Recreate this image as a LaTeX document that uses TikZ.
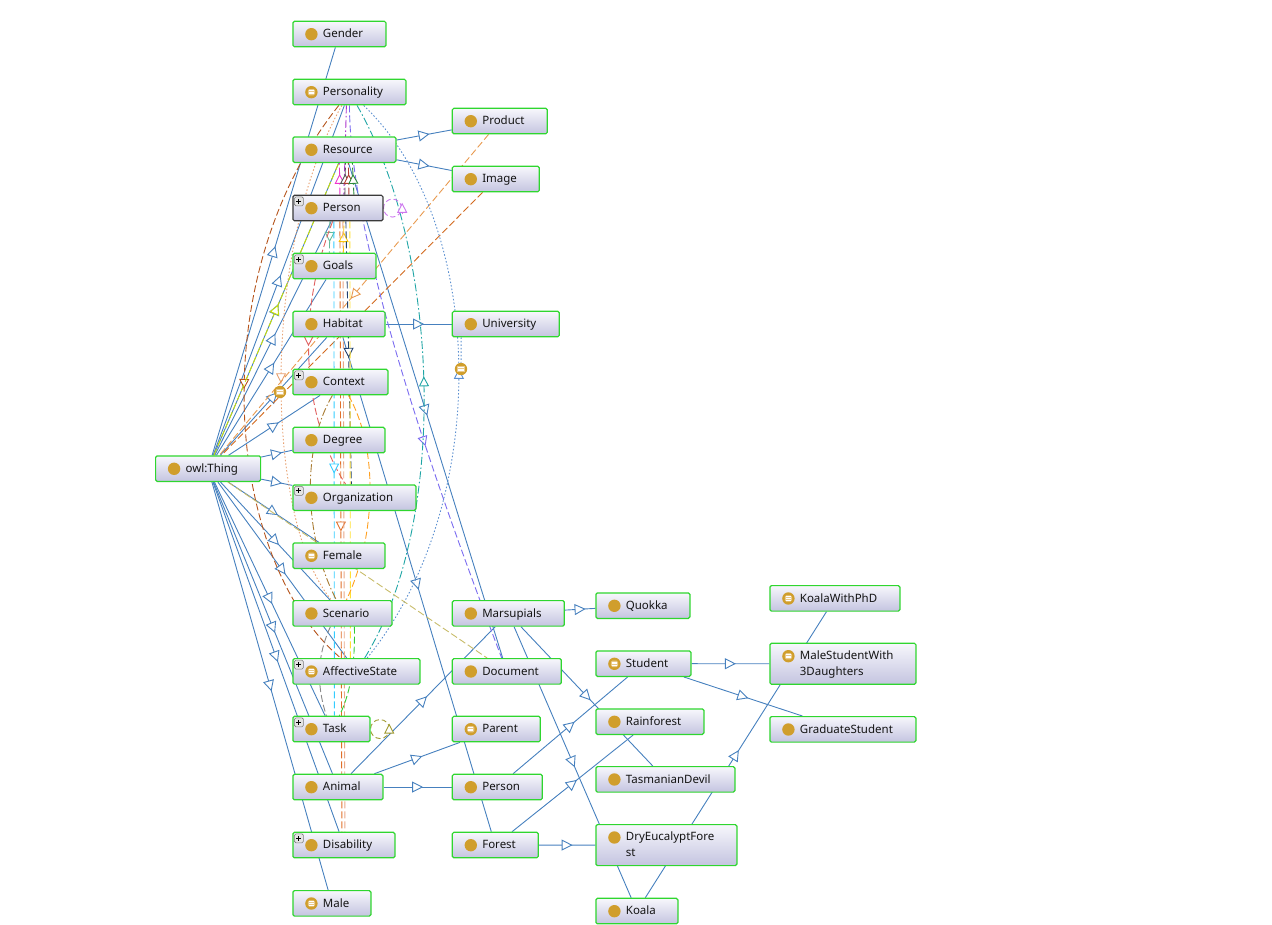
\documentclass[tikz,border=0pt]{standalone}
\usepackage{fontspec}
\setmainfont{Noto Sans}
\usetikzlibrary{arrows.meta,decorations.markings}
\pgfdeclarelayer{edges}
\pgfsetlayers{edges,main}

\definecolor{clsgreen}{HTML}{2FD62F}
\definecolor{selgray}{HTML}{3A3A3A}
\definecolor{boxtop}{HTML}{F7F7FC}
\definecolor{boxbot}{HTML}{C4C4E0}
\definecolor{gold}{HTML}{D09E2C}
\definecolor{goldlt}{HTML}{E8C98A}
\definecolor{txtgray}{HTML}{141414}
\definecolor{plusgray}{HTML}{7A7A7A}
\definecolor{plusfill}{HTML}{E4E4E4}
\definecolor{isablue}{HTML}{4680BE}
\definecolor{cbrown}{HTML}{B5541C}
\definecolor{corgdot}{HTML}{E8A070}
\definecolor{cyelgrn}{HTML}{C8E000}
\definecolor{corgl}{HTML}{E89A50}
\definecolor{corgd}{HTML}{D2691E}
\definecolor{cpurp}{HTML}{7B6CF0}
\definecolor{cteal}{HTML}{1FA5A5}
\definecolor{cbdot}{HTML}{5B8FD0}
\definecolor{ckhaki}{HTML}{C8BC6A}
\definecolor{cviolet}{HTML}{CC77EE}
\definecolor{colive}{HTML}{A09A30}
\definecolor{cmagen}{HTML}{EE33CC}
\definecolor{crbrown}{HTML}{B03A2E}
\definecolor{cdgreen}{HTML}{2A8A3A}
\definecolor{cdgray}{HTML}{555555}
\definecolor{cmint}{HTML}{66BB99}
\definecolor{cyelw}{HTML}{FFCC00}
\definecolor{credl}{HTML}{E06060}
\definecolor{cnavy}{HTML}{1F3F6F}
\definecolor{ccyan}{HTML}{33CCFF}
\definecolor{corred}{HTML}{E0702A}
\definecolor{csalmon}{HTML}{E8A888}
\definecolor{corng}{HTML}{FFA020}
\definecolor{cbrdash}{HTML}{A87A30}
\definecolor{cgrayd}{HTML}{888888}
\definecolor{cgreenl}{HTML}{33CC33}
\definecolor{cpurpd}{HTML}{AA33CC}
\definecolor{cyelwv}{HTML}{FFE033}

\newcommand\eqglyph[1]{%
  \fill[gold] (#1) circle[radius=6.2pt];
  \fill[goldlt] ([shift={(-3.6pt,-3.2pt)}]#1) rectangle ([shift={(3.6pt,3.2pt)}]#1);
  \draw[white, line width=.9pt] ([shift={(-2.6pt,1.7pt)}]#1) -- ([shift={(2.6pt,1.7pt)}]#1)
    ([shift={(-2.6pt,0pt)}]#1) -- ([shift={(2.6pt,0pt)}]#1)
    ([shift={(-2.6pt,-1.7pt)}]#1) -- ([shift={(2.6pt,-1.7pt)}]#1);}
\newcommand\clsdot{\fill[gold] ([shift={(18.5pt,-12.9pt)}]path picture bounding box.north west) circle[radius=6.2pt];}
\newcommand\clseq{\coordinate (ic) at ([shift={(18.5pt,-12.9pt)}]path picture bounding box.north west); \eqglyph{ic}}
\newcommand\clsplus{%
  \draw[plusgray, fill=plusfill, line width=.6pt] ([shift={(1.5pt,-1.5pt)}]path picture bounding box.north west) rectangle ++(9pt,-9pt);
  \draw[black, line width=.9pt] ([shift={(3.5pt,-6pt)}]path picture bounding box.north west) -- ++(5pt,0pt)
    ([shift={(6pt,-3.5pt)}]path picture bounding box.north west) -- ++(0pt,-5pt);}

\tikzset{
  box/.style={draw=clsgreen, line width=1.2pt, rounded corners=1.5pt, top color=boxtop, bottom color=boxbot,
    anchor=north west, minimum height=25.5pt, inner xsep=0pt, inner ysep=2pt, align=left, text=txtgray,
    text height=10pt, text depth=2.5pt, font=\fontsize{11.5}{16}\selectfont,
    execute at begin node={\noindent\hspace*{30pt}}},
  cls/.style={box, text width=#1, path picture={\clsdot}},
  eqv/.style={box, text width=#1, path picture={\clseq}},
  clsp/.style={box, text width=#1, path picture={\clsdot\clsplus}},
  eqvp/.style={box, text width=#1, path picture={\clseq\clsplus}},
  twoline/.style={minimum height=41pt, text depth=18.5pt},
  sel/.style={draw=selgray},
  isatip/.tip={Triangle[open, fill=white, length=11pt, width=11pt]},
  reltip/.tip={Triangle[open, fill=white, length=10pt, width=10pt]},
  isa/.style={draw=isablue, line width=.9pt, postaction={decorate, decoration={markings,
    mark=at position .5 with {\arrow[xshift=5.5pt]{isatip}}}}},
  rel/.style={line width=.9pt, dash pattern=on 7pt off 3pt},
  mid/.style={postaction={decorate, decoration={markings,
    mark=at position #1 with {\arrow[xshift=5pt]{reltip}}}}},
  dots/.style={dash pattern=on 1.5pt off 2pt},
  dashdot/.style={dash pattern=on 8pt off 2.5pt on 1.5pt off 2.5pt},
  loopline/.style={line width=.9pt, dash pattern=on 5pt off 3pt}
}

\begin{document}
\begin{tikzpicture}[x=1pt, y=-1pt]
  \useasboundingbox (0,0) rectangle (1272,924);
  % classes, first column
  \node[cls=93pt] (gender) at (292.3,20.7) {Gender};
  \node[eqv=113pt] (personality) at (292.3,78.7) {Personality};
  \node[cls=103pt] (resource) at (292.3,136.3) {Resource};
  \node[clsp=90pt, sel] (person) at (292.3,194.7) {Person};
  \node[clsp=83pt] (goals) at (292.3,252.7) {Goals};
  \node[cls=92pt] (habitat) at (292.3,310.7) {Habitat};
  \node[clsp=95pt] (context) at (292.3,368.7) {Context};
  \node[cls=92pt] (degree) at (292.3,426.7) {Degree};
  \node[cls=105pt] (thing) at (155,455.3) {owl:Thing};
  \node[clsp=123pt] (organization) at (292.3,484.3) {Organization};
  \node[eqv=92pt] (female) at (292.3,542.3) {Female};
  \node[cls=99pt] (scenario) at (292.3,600) {Scenario};
  \node[eqvp=127pt] (affective) at (292.3,658) {AffectiveState};
  \node[clsp=77pt] (task) at (292.3,715.7) {Task};
  \node[cls=90pt] (animal) at (292.3,773.7) {Animal};
  \node[clsp=102pt] (disability) at (292.3,831.7) {Disability};
  \node[eqv=78pt] (male) at (292.3,890) {Male};
  % second column
  \node[cls=95pt] (product) at (451.7,107.7) {Product};
  \node[cls=87pt] (image) at (451.7,165.7) {Image};
  \node[cls=107pt] (university) at (451.7,310.7) {University};
  \node[cls=112pt] (marsupials) at (451.7,600) {Marsupials};
  \node[cls=109pt] (document) at (451.7,658) {Document};
  \node[eqv=88pt] (parent) at (451.7,715.7) {Parent};
  \node[cls=90pt] (personb) at (451.7,773.7) {Person};
  \node[cls=86pt] (forest) at (451.7,831.7) {Forest};
  % third column
  \node[cls=94pt] (quokka) at (595.3,592.3) {Quokka};
  \node[eqv=95pt] (student) at (595.3,650.3) {Student};
  \node[cls=108pt] (rainforest) at (595.3,708.3) {Rainforest};
  \node[cls=139pt] (tasdevil) at (595.3,766) {TasmanianDevil};
  \node[cls=141pt, twoline] (dryforest) at (595.3,824) {DryEucalyptFore\\\hspace*{30pt}st};
  \node[cls=82pt] (koala) at (595.3,897.7) {Koala};
  % fourth column
  \node[eqv=130pt] (koalaphd) at (769.3,585) {KoalaWithPhD};
  \node[eqv=146pt, twoline] (malestudent) at (769.3,642.7) {MaleStudentWith\\\hspace*{30pt}3Daughters};
  \node[cls=146pt] (gradstudent) at (769.3,716) {GraduateStudent};

  \coordinate (eqa) at (280,392);
  \coordinate (eqb) at (461,369);

  \begin{pgfonlayer}{edges}
  % subclass arcs
  \draw[isa] (thing) -- (gender);
  \draw[isa] (thing) -- (personality);
  \draw[isa] (thing) -- (resource);
  \draw[isa] (thing) -- (person);
  \draw[isa] (thing) -- (goals);
  \draw[isa] (thing) -- (habitat);
  \draw[isa] (thing) -- (context);
  \draw[isa] (thing) -- (degree);
  \draw[isa] (thing) -- (organization);
  \draw[isa] (thing) -- (female);
  \draw[isa] (thing) -- (scenario);
  \draw[isa] (thing) -- (affective);
  \draw[isa] (thing) -- (task);
  \draw[isa] (thing) -- (animal);
  \draw[isa] (thing) -- (disability);
  \draw[isa] (thing) -- (male);
  \draw[isa] (resource) -- (product);
  \draw[isa] (resource) -- (image);
  \draw[isa] (resource) -- (document);
  \draw[isa] (habitat) -- (university);
  \draw[isa] (habitat) -- (forest);
  \draw[isa] (animal) -- (marsupials);
  \draw[isa] (animal) -- (parent);
  \draw[isa] (animal) -- (personb);
  \draw[isa] (marsupials) -- (quokka);
  \draw[isa] (marsupials) -- (tasdevil);
  \draw[isa] (marsupials) -- (koala);
  \draw[isa] (personb) -- (student);
  \draw[isa] (forest) -- (rainforest);
  \draw[isa] (forest) -- (dryforest);
  \draw[isa] (student) -- (malestudent);
  \draw[isa] (student) -- (gradstudent);
  \draw[isa] (koala) -- (koalaphd);
  % object properties
  \draw[rel, cbrown, mid=.5] (personality) .. controls (200,280) and (225,560) .. (affective);
  \draw[rel, dots, corgdot, mid=.55] (personality) .. controls (260,250) and (265,520) .. (scenario);
  \draw[rel, cyelgrn, mid=.5] (thing) -- (resource);
  \draw[rel, corgl, mid=.5] (product) -- (thing);
  \draw[rel, corgd] (image) -- (thing);
  \draw[rel, cpurp, mid=.6] (personality) .. controls (350,240) and (430,470) .. (document);
  \draw[rel, dashdot, cteal, mid=.5] (affective) .. controls (450,520) and (440,250) .. (personality);
  \draw[rel, dots, cbdot, mid=.51] (affective) .. controls (495,500) and (485,220) .. (personality);
  \draw[rel, dots, cbdot] ([xshift=9.5pt]university.south west) -- (eqb);
  \draw[rel, ckhaki] (thing) -- (document);
  \draw[rel, dashdot, cpurpd] ([xshift=-3pt]personality.south) -- ([xshift=6pt]person.north);
  \draw[rel, cmagen, mid=.5] ([xshift=2pt]person.north) -- ([xshift=-5pt]resource.south);
  \draw[rel, cdgray, mid=.5] ([xshift=7pt]person.north) -- ([xshift=1pt]resource.south);
  \draw[rel, crbrown, mid=.5] ([xshift=11pt]person.north) -- ([xshift=4pt]resource.south);
  \draw[rel, cdgreen, mid=.5] ([xshift=16pt]person.north) -- ([xshift=8pt]resource.south);
  \draw[rel, cmint, mid=.5] ([xshift=-8pt]person.south) -- ([xshift=-5pt]goals.north);
  \draw[rel, cyelw, mid=.5] ([xshift=9pt]goals.north) -- ([xshift=6pt]person.south);
  \draw[rel, credl, mid=.45] (person) .. controls (290,330) and (310,430) .. (organization);
  \draw[rel, cnavy, mid=.5] ([xshift=8pt]person.south) -- ([xshift=-3pt]organization.north);
  \draw[rel, ccyan, mid=.5] ([xshift=-4pt]person.south) -- ([xshift=3pt]task.north);
  \draw[rel, corred, mid=.5] ([xshift=2pt]person.south) -- ([xshift=-2pt]disability.north);
  \draw[rel, csalmon] ([xshift=5pt]person.south) -- ([xshift=1pt]disability.north);
  \draw[rel, cyelwv] ([xshift=12pt]person.south) -- ([xshift=-6pt]affective.north);
  \draw[rel, corng] ([xshift=8pt]context.south) .. controls (380,450) and (375,540) .. ([xshift=4pt]scenario.north);
  \draw[rel, dashdot, cbrdash] ([xshift=-8pt]context.south) .. controls (300,450) and (305,540) .. ([xshift=-6pt]scenario.north);
  \draw[rel, cgrayd] ([xshift=-12pt]scenario.south) .. controls (315,660) and (318,690) .. ([xshift=-5pt]task.north);
  \draw[rel, cgreenl] ([xshift=12pt]scenario.south) .. controls (355,660) and (352,690) .. ([xshift=8pt]task.north);
  % self loops
  \draw[loopline, cviolet] ([xshift=9pt]person.east) circle[radius=9pt];
  \draw[cviolet, line width=.9pt, -{reltip}] ([xshift=18.7pt,yshift=-5pt]person.east) -- ([xshift=18.7pt,yshift=5.3pt]person.east);
  \draw[loopline, colive] ([xshift=9.5pt]task.east) circle[radius=9.5pt];
  \draw[colive, line width=.9pt, -{reltip}] ([xshift=18.7pt,yshift=-5pt]task.east) -- ([xshift=18.7pt,yshift=5.5pt]task.east);
  \end{pgfonlayer}

  \eqglyph{eqa}
  \eqglyph{eqb}
\end{tikzpicture}
\end{document}
